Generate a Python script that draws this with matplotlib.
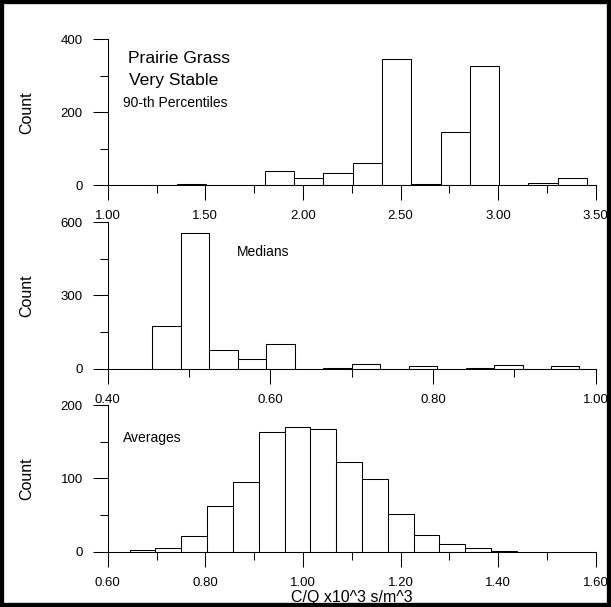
import numpy as np
import matplotlib
matplotlib.use('Agg')
import matplotlib.pyplot as plt
from matplotlib.ticker import MultipleLocator, FormatStrFormatter
from matplotlib.patches import Rectangle

plt.rcParams['font.family'] = ['Liberation Sans', 'DejaVu Sans']

# C/Q histograms, Prairie Grass, very stable cases
p90_start, p90_width = 1.205, 0.15
p90_counts = [2, 4, 2, 2, 39, 19, 33, 62, 345, 4, 145, 327, 0, 5, 19]

med_start, med_width = 0.455, 0.035
med_counts = [176, 558, 75, 41, 100, 0, 2, 20, 0, 10, 0, 4, 14, 0, 10]

avg_start, avg_width = 0.645, 0.0529
avg_counts = [2, 5, 22, 63, 95, 164, 171, 167, 123, 99, 51, 23, 10, 5, 1]


def draw_hist(ax, start, width, counts, xlim, xstep, ylim, ystep):
    edges = start + width * np.arange(len(counts) + 1)
    ax.bar(edges[:-1], counts, width=width, align='edge',
           color='white', edgecolor='black', linewidth=0.75)
    ax.set_xlim(xlim)
    ax.set_ylim(ylim)
    ax.xaxis.set_major_locator(MultipleLocator(xstep))
    ax.xaxis.set_minor_locator(MultipleLocator(xstep / 2))
    ax.yaxis.set_major_locator(MultipleLocator(ystep))
    ax.yaxis.set_minor_locator(MultipleLocator(ystep / 2))
    ax.xaxis.set_major_formatter(FormatStrFormatter('%.2f'))
    for s in ['top', 'right']:
        ax.spines[s].set_visible(False)
    for s in ['left', 'bottom']:
        ax.spines[s].set_linewidth(0.75)
    ax.tick_params(which='major', length=11, width=0.75, labelsize=9.5, pad=7)
    ax.tick_params(which='minor', length=5.8, width=0.75)
    ax.set_ylabel('Count', fontsize=11.5)
    ax.yaxis.set_label_coords(-0.15, 0.5)


fig = plt.figure(figsize=(6.11, 6.07), dpi=100)

ax1 = fig.add_axes([0.1763, 0.6947, 0.7987, 0.2405])
ax2 = fig.add_axes([0.1763, 0.3926, 0.7987, 0.2412])
ax3 = fig.add_axes([0.1763, 0.0911, 0.7987, 0.2412])

draw_hist(ax1, p90_start, p90_width, p90_counts, (1.0, 3.5), 0.5, (0, 400), 200)
draw_hist(ax2, med_start, med_width, med_counts, (0.4, 1.0), 0.2, (0, 600), 300)
draw_hist(ax3, avg_start, avg_width, avg_counts, (0.6, 1.6), 0.2, (0, 200), 100)

ax1.text(0.042, 0.836, 'Prairie Grass', transform=ax1.transAxes, fontsize=12.6)
ax1.text(0.044, 0.687, 'Very Stable', transform=ax1.transAxes, fontsize=12.6)
ax1.text(0.031, 0.538, '90-th Percentiles', transform=ax1.transAxes, fontsize=10)
ax2.text(0.264, 0.770, 'Medians', transform=ax2.transAxes, fontsize=10)
ax3.text(0.031, 0.751, 'Averages', transform=ax3.transAxes, fontsize=10)

ax3.set_xlabel('C/Q x10^3 s/m^3', fontsize=11.5)
ax3.xaxis.set_label_coords(0.5, -0.262)

# frame around the whole figure
fig.add_artist(Rectangle((0, 0), 1, 1, transform=fig.transFigure,
                         fill=False, edgecolor='black', linewidth=6))

fig.savefig('out.png', dpi=100)
